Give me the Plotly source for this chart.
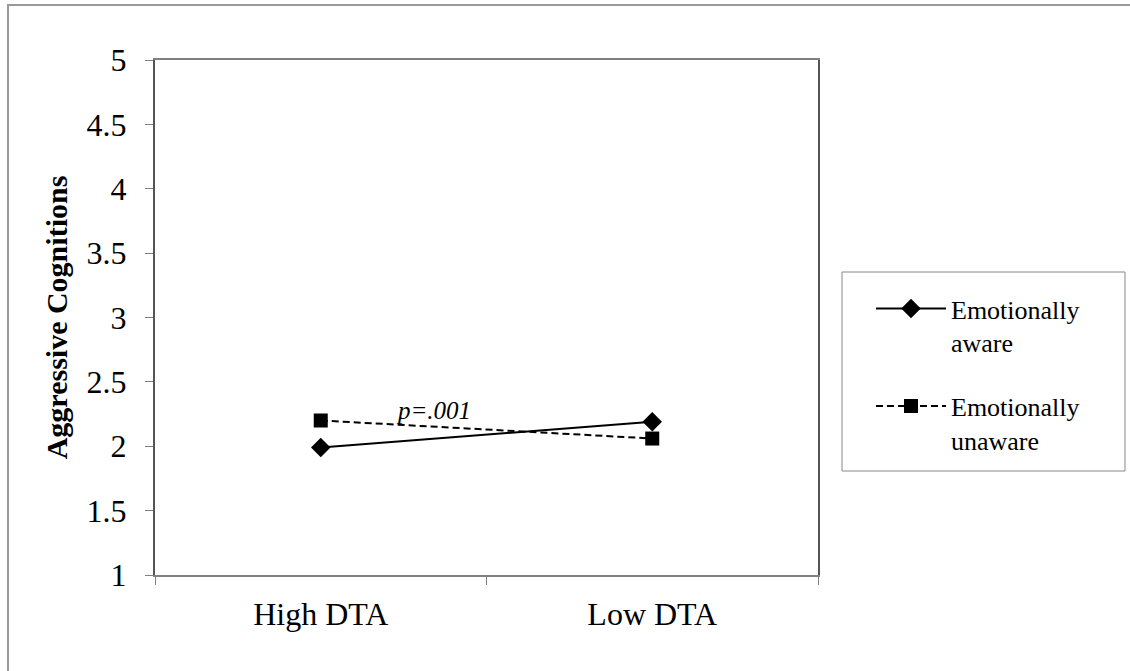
import plotly.graph_objects as go

categories = ["High DTA", "Low DTA"]
aware = [1.99, 2.19]
unaware = [2.20, 2.06]
series_names = ["Emotionally<br>aware", "Emotionally<br>unaware"]
y_ticks = [1, 1.5, 2, 2.5, 3, 3.5, 4, 4.5, 5]
y_tick_labels = ["1", "1.5", "2", "2.5", "3", "3.5", "4", "4.5", "5"]

FONT = "Liberation Serif, Times New Roman, serif"

L, R, T, B = 155, 818, 60, 575
PW, PH = R - L, B - T


def px(x):
    return (x - L) / PW


def py(y):
    return (B - y) / PH


fig = go.Figure()
fig.add_trace(go.Scatter(
    x=categories, y=aware, name=series_names[0], mode="lines+markers",
    legendgroup="a",
    line=dict(color="black", width=2),
    marker=dict(symbol="diamond", size=15, color="black"),
))
fig.add_trace(go.Scatter(
    x=categories, y=unaware, name=series_names[1], mode="lines+markers",
    legendgroup="b",
    line=dict(color="black", width=2, dash="7px,4px"),
    marker=dict(symbol="square", size=14, color="black"),
))

fig.add_annotation(
    x=0.34, y=2.28, xref="x", yref="y", text="<i>p=.001</i>", showarrow=False,
    font=dict(family=FONT, size=25, color="black"),
)

# outer frame
fig.add_shape(type="rect", xref="paper", yref="paper",
              x0=px(8), x1=px(1145), y0=py(690), y1=py(5),
              line=dict(color="#999999", width=2), fillcolor="rgba(0,0,0,0)")
# legend frame
fig.add_shape(type="rect", xref="paper", yref="paper",
              x0=px(842), x1=px(1125), y0=py(471), y1=py(272),
              line=dict(color="#888888", width=1), fillcolor="rgba(0,0,0,0)")

fig.update_layout(
    width=1130, height=671,
    margin=dict(l=L, r=1130 - R, t=T, b=671 - B),
    paper_bgcolor="white", plot_bgcolor="white",
    font=dict(family=FONT, size=26, color="black"),
    showlegend=True,
    legend=dict(
        x=px(871), y=py(285), xanchor="left", yanchor="top",
        borderwidth=0, bgcolor="rgba(0,0,0,0)",
        font=dict(family=FONT, size=26, color="black"),
        itemwidth=70, tracegroupgap=27, valign="top",
    ),
    xaxis=dict(
        type="category", range=[-0.5, 1.5],
        showline=True, linecolor="#808080", linewidth=2, mirror=True,
        ticks="outside", tickson="boundaries", ticklen=8, tickcolor="#808080",
        showgrid=False, zeroline=False, ticklabelstandoff=10,
        tickfont=dict(family=FONT, size=32, color="black"),
    ),
    yaxis=dict(
        range=[1, 5], tickvals=y_ticks, ticktext=y_tick_labels,
        showline=True, linecolor="#555555", linewidth=2, mirror=True,
        ticks="outside", ticklen=8, tickcolor="#808080",
        showgrid=False, zeroline=False, ticklabelstandoff=12,
        tickfont=dict(family=FONT, size=32, color="black"),
        title=dict(text="<b>Aggressive Cognitions</b>", standoff=10,
                   font=dict(family=FONT, size=30, color="black")),
    ),
)

fig.write_html("out.html", config={"displayModeBar": False},
               post_script="document.body.style.margin='0';")
